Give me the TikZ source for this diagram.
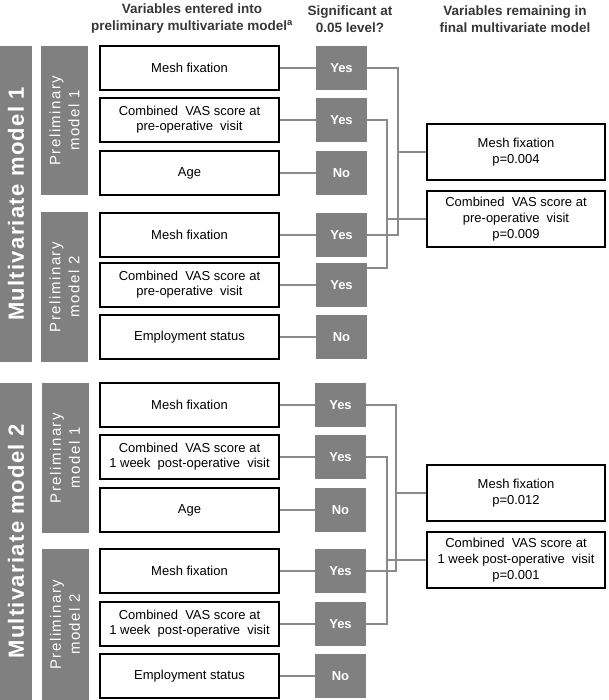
\documentclass[tikz,border=0pt]{standalone}
\usepackage{fontspec}
\setmainfont{Liberation Sans}
\usetikzlibrary{positioning,calc}
\definecolor{barfill}{RGB}{128,128,128}
\definecolor{linkgray}{RGB}{138,138,138}
\definecolor{headtext}{RGB}{55,55,55}
\tikzset{
  varbox/.style={draw=black, line width=1.4pt, fill=white, minimum width=179pt, minimum height=44pt,
    inner sep=0pt, align=center, font=\fontsize{13}{15}\selectfont},
  sigbox/.style={fill=barfill, text=white, minimum width=51pt, minimum height=44pt, inner sep=0pt,
    font=\fontsize{13}{15}\selectfont\bfseries},
  finalbox/.style={draw=black, line width=1.4pt, fill=white, minimum width=178pt, minimum height=56pt,
    inner sep=0pt, align=center, font=\fontsize{13}{16}\selectfont},
  modelbar/.style={fill=barfill, text=white, rotate=90, inner sep=0pt, align=center},
  bigbar/.style={modelbar, minimum height=32pt, font=\fontsize{22}{24}\selectfont\bfseries\addfontfeature{LetterSpace=6}},
  prelimbar/.style={modelbar, minimum height=47pt, font=\fontsize{15}{19}\selectfont\addfontfeature{LetterSpace=10}},
  heading/.style={text=headtext, align=center, font=\fontsize{13.5}{17}\selectfont\bfseries},
  link/.style={draw=linkgray, line width=1.6pt}
}
\begin{document}
\begin{tikzpicture}[x=1pt,y=-1pt]
\useasboundingbox (0,0) rectangle (609,700);
% column headings
\node[heading] (headvar) at (192,19) {Variables entered into\\preliminary multivariate model\textsuperscript{a}};
\node[heading] (headsig) at (350,19) {Significant at\\0.05 level?};
\node[heading] (headfin) at (515,19) {Variables remaining in\\final multivariate model};

% multivariate model 1
\node[bigbar, minimum width=316pt] (mm1) at (16,204) {Multivariate model 1};
\node[prelimbar, minimum width=149pt] (pm11) at (64.5,120.5) {Preliminary\\model 1};
\node[prelimbar, minimum width=150pt] (pm12) at (64.5,287) {Preliminary\\model 2};

\node[varbox] (v11) at (189.5,68) {Mesh fixation};
\node[varbox] (v12) at (189.5,120) {Combined~~VAS score at\\pre-operative~~visit};
\node[varbox] (v13) at (189.5,173) {Age};
\node[varbox] (v14) at (189.5,235) {Mesh fixation};
\node[varbox] (v15) at (189.5,285) {Combined~~VAS score at\\pre-operative~~visit};
\node[varbox] (v16) at (189.5,337) {Employment status};

\node[sigbox] (s11) at (341.5,68) {Yes};
\node[sigbox] (s12) at (341.5,120) {Yes};
\node[sigbox] (s13) at (341.5,173) {No};
\node[sigbox] (s14) at (341.5,235) {Yes};
\node[sigbox] (s15) at (341.5,285) {Yes};
\node[sigbox] (s16) at (341.5,337) {No};

\node[finalbox] (f11) at (516,152) {Mesh fixation\\p=0.004};
\node[finalbox] (f12) at (516,219) {Combined~~VAS score at\\pre-operative~~visit\\p=0.009};

\foreach \i in {1,...,6}
  \draw[link] (v1\i.east) -- (s1\i.west);
\coordinate (j11) at (398,152);
\coordinate (j12) at (387,219);
\coordinate (s15hook) at ($(s15.east)+(0,-17)$);
\draw[link] (s11.east) -| (j11) |- (s14.east);
\draw[link] (j11) -- (f11.west);
\draw[link] (s12.east) -| (j12) |- (s15hook);
\draw[link] (j12) -- (f12.west);

% multivariate model 2
\node[bigbar, minimum width=317pt] (mm2) at (16,541.5) {Multivariate model 2};
\node[prelimbar, minimum width=150pt] (pm21) at (65,458) {Preliminary\\model 1};
\node[prelimbar, minimum width=151pt] (pm22) at (65,624.5) {Preliminary\\model 2};

\node[varbox] (v21) at (189.5,405) {Mesh fixation};
\node[varbox] (v22) at (189.5,457) {Combined~~VAS score at\\1 week~~post-operative~~visit};
\node[varbox] (v23) at (189.5,510) {Age};
\node[varbox] (v24) at (189.5,571) {Mesh fixation};
\node[varbox] (v25) at (189.5,624) {Combined~~VAS score at\\1 week~~post-operative~~visit};
\node[varbox] (v26) at (189.5,676) {Employment status};

\node[sigbox] (s21) at (340.5,405) {Yes};
\node[sigbox] (s22) at (340.5,457) {Yes};
\node[sigbox] (s23) at (340.5,510) {No};
\node[sigbox] (s24) at (340.5,571) {Yes};
\node[sigbox] (s25) at (340.5,624) {Yes};
\node[sigbox] (s26) at (340.5,676) {No};

\node[finalbox] (f21) at (516,493) {Mesh fixation\\p=0.012};
\node[finalbox] (f22) at (516,560) {Combined~~VAS score at\\1 week post-operative~~visit\\p=0.001};

\foreach \i in {1,...,6}
  \draw[link] (v2\i.east) -- (s2\i.west);
\coordinate (j21) at (396,493);
\coordinate (j22) at (387,560);
\draw[link] (s21.east) -| (j21) |- (s24.east);
\draw[link] (j21) -- (f21.west);
\draw[link] (s22.east) -| (j22) |- (s25.east);
\draw[link] (j22) -- (f22.west);
\end{tikzpicture}
\end{document}
